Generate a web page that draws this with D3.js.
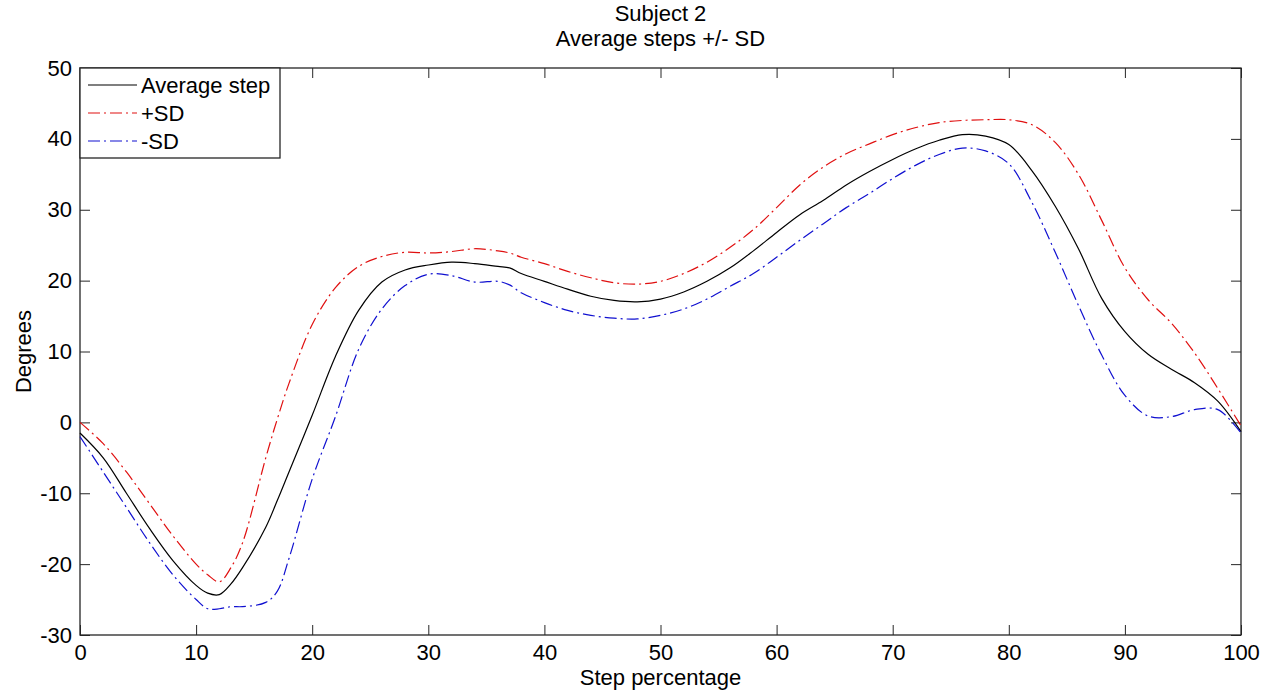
<!DOCTYPE html>
<html>
<head>
<meta charset="utf-8">
<script src="https://cdn.jsdelivr.net/npm/d3@7"></script>
<style>
  body { margin: 0; background: #fff; }
  svg { display: block; }
  text { font-family: Arial, "Liberation Sans", sans-serif; fill: #000; }
</style>
</head>
<body>
<div id="chart"></div>
<script>
// step percentage where each value was read
const pct = [0, 2, 4, 6, 8, 10, 11, 12, 13, 14, 16, 17, 18, 20, 22, 24, 26, 28, 30, 32, 34, 36, 37, 38, 40,
  42, 44, 46, 48, 50, 52, 54, 56, 58, 60, 62, 64, 66, 68, 70, 72, 74, 76, 78, 80, 82, 84, 86, 88, 90, 92, 94, 96, 98, 100];

const avgStep = [-1.5, -5, -10, -15, -19.5, -23, -24.1, -24.3, -22.8, -20.5, -14.8, -11, -7, 1, 9.3, 15.8, 19.8, 21.5, 22.2, 22.6, 22.4, 22, 21.8, 21, 19.9,
  18.8, 17.8, 17.2, 17, 17.4, 18.4, 19.9, 21.8, 24.2, 26.8, 29.3, 31.3, 33.5, 35.4, 37.1, 38.6, 39.8, 40.6, 40.4, 39.2, 35.5, 30.5, 24.5, 17.5, 12.8, 9.6, 7.5, 5.6, 3, -1.3];

const plusSD = [0, -3, -7, -11.5, -16, -20, -21.5, -22.5, -20.5, -17, -5, 0.5, 5.5, 13.8, 19, 22, 23.4, 24, 23.9, 24.1, 24.5, 24.2, 23.9, 23.3, 22.4,
  21.3, 20.4, 19.7, 19.5, 19.9, 21, 22.6, 24.7, 27.2, 30.3, 33.5, 36, 37.9, 39.3, 40.6, 41.6, 42.3, 42.6, 42.7, 42.7, 42, 39.5, 35, 28.5, 21.8, 17.3, 14, 9.8, 4.8, -0.5];

const minusSD = [-2, -7, -12, -17, -21.5, -25, -26.3, -26.3, -26, -26, -25.4, -23.8, -19.2, -8, 0.8, 10.3, 16, 19.3, 20.9, 20.7, 19.8, 19.9, 19.4, 18.3, 16.9,
  15.8, 15.1, 14.7, 14.6, 15.1, 16, 17.4, 19.2, 21, 23.3, 25.7, 28, 30.3, 32.3, 34.4, 36.3, 37.8, 38.7, 38.3, 36.5, 31, 24, 16.5, 9.5, 3.8, 0.9, 0.8, 1.8, 1.8, -1.5];

const xTicks = [0, 10, 20, 30, 40, 50, 60, 70, 80, 90, 100];
const yTicks = [-30, -20, -10, 0, 10, 20, 30, 40, 50];

const series = [
  { name: "Average step", values: avgStep, color: "#000000", dash: null },
  { name: "+SD", values: plusSD, color: "#e01010", dash: "12,4,2,4" },
  { name: "-SD", values: minusSD, color: "#1010d0", dash: "12,4,2,4" }
];

const width = 1272, height = 691;
const mLeft = 80, mRight = 1241, mTop = 68, mBottom = 635;
const fontSize = "22px";

const svg = d3.select("#chart").append("svg")
  .attr("width", width)
  .attr("height", height);

const x = d3.scaleLinear().domain([0, 100]).range([mLeft, mRight]);
const y = d3.scaleLinear().domain([-30, 50]).range([mBottom, mTop]);

// box + ticks on all four sides, pointing inwards
const axisStyle = g => {
  g.select(".domain").remove();
  g.selectAll(".tick line").attr("stroke", "#262626");
  g.selectAll("text").style("font-size", fontSize).attr("fill", "#000");
};
const plain = d => String(d);

svg.append("g").attr("transform", `translate(0,${mBottom})`)
  .call(d3.axisBottom(x).tickValues(xTicks).tickSizeInner(-10).tickSizeOuter(0).tickPadding(9).tickFormat(plain))
  .call(axisStyle);
svg.append("g").attr("transform", `translate(0,${mTop})`)
  .call(d3.axisTop(x).tickValues(xTicks).tickSizeInner(-10).tickSizeOuter(0).tickFormat(""))
  .call(axisStyle);
svg.append("g").attr("transform", `translate(${mLeft},0)`)
  .call(d3.axisLeft(y).tickValues(yTicks).tickSizeInner(-10).tickSizeOuter(0).tickPadding(8).tickFormat(plain))
  .call(axisStyle);
svg.append("g").attr("transform", `translate(${mRight},0)`)
  .call(d3.axisRight(y).tickValues(yTicks).tickSizeInner(-10).tickSizeOuter(0).tickFormat(""))
  .call(axisStyle);

svg.append("rect")
  .attr("x", mLeft).attr("y", mTop)
  .attr("width", mRight - mLeft).attr("height", mBottom - mTop)
  .attr("fill", "none").attr("stroke", "#262626").attr("stroke-width", 1.3);

const line = d3.line()
  .x((d, i) => x(pct[i]))
  .y(d => y(d))
  .curve(d3.curveCatmullRom.alpha(0.5));

svg.selectAll(".series")
  .data(series)
  .enter()
  .append("path")
  .attr("class", "series")
  .attr("d", d => line(d.values))
  .attr("fill", "none")
  .attr("stroke", d => d.color)
  .attr("stroke-width", 1.2)
  .attr("stroke-dasharray", d => d.dash);

// titles
svg.append("text").attr("x", (mLeft + mRight) / 2).attr("y", 21)
  .attr("text-anchor", "middle").style("font-size", fontSize).text("Subject 2");
svg.append("text").attr("x", (mLeft + mRight) / 2).attr("y", 46)
  .attr("text-anchor", "middle").style("font-size", fontSize).text("Average steps +/- SD");

svg.append("text").attr("x", (mLeft + mRight) / 2).attr("y", 685)
  .attr("text-anchor", "middle").style("font-size", fontSize).text("Step percentage");
svg.append("text")
  .attr("transform", `translate(31,${(mTop + mBottom) / 2}) rotate(-90)`)
  .attr("text-anchor", "middle").style("font-size", fontSize).text("Degrees");

// legend
const legend = svg.append("g");
legend.append("rect")
  .attr("x", mLeft).attr("y", mTop).attr("width", 200).attr("height", 90)
  .attr("fill", "#fff").attr("stroke", "#262626").attr("stroke-width", 1.3);
const rows = legend.selectAll(".row")
  .data(series)
  .enter()
  .append("g")
  .attr("class", "row")
  .attr("transform", (d, i) => `translate(0,${85 + i * 28})`);
rows.append("line")
  .attr("x1", 88).attr("x2", 137)
  .attr("stroke", d => d.color)
  .attr("stroke-width", 1.2)
  .attr("stroke-dasharray", d => d.dash);
rows.append("text")
  .attr("x", 141).attr("y", 8)
  .style("font-size", fontSize)
  .text(d => d.name);
</script>
</body>
</html>
